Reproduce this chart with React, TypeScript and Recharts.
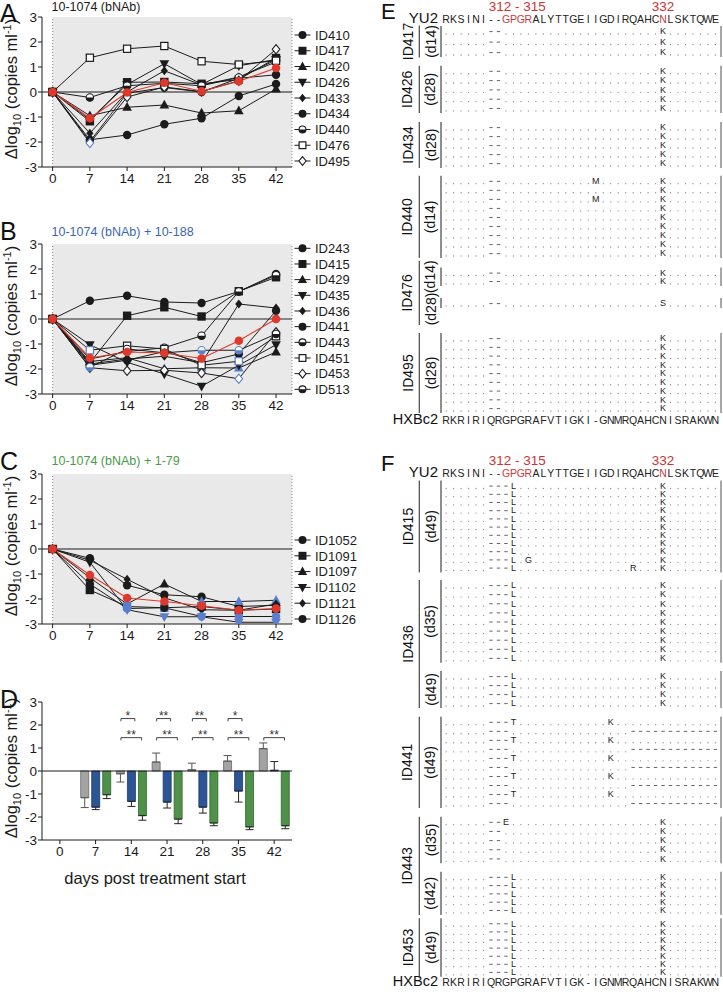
import React from 'react'
import { LineChart, Line, XAxis, YAxis, ReferenceLine, ReferenceArea, BarChart, Bar, ErrorBar } from 'recharts'

const FONT = '"Liberation Sans", Arial, Helvetica, sans-serif'
const INK = '#1b1b1b'
const PT_BLUE = '#5b7fcc'
const MEAN_RED = '#e0392b'

const days = [0, 7, 14, 21, 28, 35, 42]
const yTicks = [-3, -2, -1, 0, 1, 2, 3]

// A: 10-1074 alone
const a410 = [0, -1.98, -0.05, 0.18, 0.0, 0.55, 0.69]
const a417 = [0, -1.17, 0.39, 0.4, 0.33, 0.5, 1.36]
const a420 = [0, -0.95, -0.61, -0.52, -0.84, -0.75, 0.12]
const a426 = [0, -1.1, 0.3, 1.13, 0.3, 1.05, 1.3]
const a433 = [0, -1.65, 0.0, 0.85, 0.28, 0.6, 1.2]
const a434 = [0, -1.91, -1.72, -1.29, -1.05, -0.16, 0.32]
const a440 = [0, -0.22, 0.25, 0.35, 0.25, 0.58, 1.28]
const a476 = [0, 1.37, 1.73, 1.84, 1.23, 1.1, 1.25]
const a495 = [0, -2.04, -0.2, 0.2, 0.02, 0.45, 1.71]
const aMean = [0, -1.05, -0.02, 0.37, 0.03, 0.43, 0.96]

// B: 10-1074 + 10-188
const b243 = [0, 0.73, 0.93, 0.68, 0.64, 1.1, 1.8]
const b415 = [0, -1.75, 0.13, 0.47, 0.1, 1.11, 1.67]
const b429 = [0, -1.7, -1.55, -1.99, -1.95, -1.96, -1.32]
const b435 = [0, -1.03, -1.73, -2.2, -2.69, -1.85, -1.03]
const b436 = [0, -1.8, -1.6, -1.49, -1.75, 0.6, 0.44]
const b441 = [0, -1.85, -1.65, -1.3, -1.75, -1.4, 0.33]
const b443 = [0, -1.6, -1.3, -1.15, -0.67, 1.1, 1.75]
const b451 = [0, -1.25, -1.07, -1.2, -1.85, -1.69, -0.69]
const b453 = [0, -1.95, -2.07, -2.05, -2.16, -2.39, -0.53]
const b513 = [0, -1.93, -1.2, -1.35, -1.25, -1.25, -0.6]
const bMean = [0, -1.56, -1.32, -1.36, -1.58, -0.87, 0.0]

// C: 10-1074 + 1-79
const c1052 = [0, -0.37, -1.45, -1.83, -1.91, -2.3, -2.25]
const c1091 = [0, -1.64, -2.3, -2.35, -2.3, -2.45, -2.4]
const c1097 = [0, -1.15, -2.2, -1.4, -2.1, -2.1, -2.05]
const c1102 = [0, -0.53, -2.43, -2.71, -2.71, -2.93, -2.93]
const c1121 = [0, -0.45, -1.21, -1.95, -2.43, -2.45, -2.2]
const c1126 = [0, -1.4, -2.38, -2.35, -2.7, -2.7, -2.7]
const cMean = [0, -1.04, -1.96, -2.1, -2.27, -2.45, -2.38]

const seriesA = [
  { id: 'ID410', shape: 'circle', values: a410, blueDays: [7] },
  { id: 'ID417', shape: 'square', values: a417, blueDays: [] },
  { id: 'ID420', shape: 'triUp', values: a420, blueDays: [] },
  { id: 'ID426', shape: 'triDown', values: a426, blueDays: [] },
  { id: 'ID433', shape: 'diamond', values: a433, blueDays: [] },
  { id: 'ID434', shape: 'circle', values: a434, blueDays: [] },
  { id: 'ID440', shape: 'halfCircle', values: a440, blueDays: [] },
  { id: 'ID476', shape: 'openSquare', values: a476, blueDays: [] },
  { id: 'ID495', shape: 'openDiamond', values: a495, blueDays: [7] },
]
const seriesB = [
  { id: 'ID243', shape: 'circle', values: b243, blueDays: [] },
  { id: 'ID415', shape: 'square', values: b415, blueDays: [] },
  { id: 'ID429', shape: 'triUp', values: b429, blueDays: [21, 28, 35] },
  { id: 'ID435', shape: 'triDown', values: b435, blueDays: [] },
  { id: 'ID436', shape: 'diamond', values: b436, blueDays: [] },
  { id: 'ID441', shape: 'circle', values: b441, blueDays: [] },
  { id: 'ID443', shape: 'halfCircle', values: b443, blueDays: [] },
  { id: 'ID451', shape: 'openSquare', values: b451, blueDays: [7, 35] },
  { id: 'ID453', shape: 'openDiamond', values: b453, blueDays: [35] },
  { id: 'ID513', shape: 'halfCircle', values: b513, blueDays: [7, 28, 35] },
]
const seriesC = [
  { id: 'ID1052', shape: 'circle', values: c1052, blueDays: [] },
  { id: 'ID1091', shape: 'square', values: c1091, blueDays: [14, 21] },
  { id: 'ID1097', shape: 'triUp', values: c1097, blueDays: [14, 28, 35, 42] },
  { id: 'ID1102', shape: 'triDown', values: c1102, blueDays: [14, 21, 28, 35, 42] },
  { id: 'ID1121', shape: 'diamond', values: c1121, blueDays: [] },
  { id: 'ID1126', shape: 'circle', values: c1126, blueDays: [14, 28, 35, 42] },
]

// D: group means with one-sided SEM
const dDays = ['0', '7', '14', '21', '28', '35', '42']
const dMono = [null, -1.16, -0.12, 0.39, 0.05, 0.43, 0.97]
const dMonoErr = [0, 0.43, 0.36, 0.39, 0.29, 0.24, 0.25]
const d188 = [null, -1.57, -1.32, -1.35, -1.57, -0.87, 0.03]
const d188Err = [0, 0.11, 0.22, 0.26, 0.26, 0.48, 0.38]
const d179 = [null, -1.03, -1.94, -2.09, -2.26, -2.43, -2.38]
const d179Err = [0, 0.17, 0.2, 0.2, 0.12, 0.12, 0.13]
const sigMonoVs188 = ['', '', '*', '**', '**', '*', '']
const sigMonoVs179 = ['', '', '**', '**', '**', '**', '**']

// E / F: Env sequences
const yu2 = 'RKSINI--GPGRALYTTGEIIGDIRQAHCNLSKTQWE'
const hxbE = 'RKRIRIQRGPGRAFVTIGKI-GNMRQAHCNISRAKWN'
const hxbF = 'RKRIRIQRGPGRAFVTIGK-IGNMRQAHCNISRAKWN'
const redCols = [8, 9, 10, 11, 29]

const e417d14 = ['29K', '29K', '29K']
const e426d28 = ['29K', '29K', '29K', '29K', '29K']
const e434d28 = ['29K', '29K', '29K', '29K', '29K']
const e440d14 = ['20M 29K', '29K', '20M 29K', '29K', '29K', '29K', '29K', '29K', '29K']
const e476d14 = ['29K', '29K']
const e476d28 = ['29S']
const e495d28 = ['29K', '29K', '29K', '29K', '29K', '29K', '29K', '29K', '29K']

const f415d49 = ['9L 29K', '9L 29K', '9L 29K', '9L 29K', '9L 29K', '9L 29K', '9L 29K', '9L 29K', '9L 29K', '9L 11G 29K', '9L 25R 29K']
const f436d35 = ['9L 29K', '9L 29K', '9L 29K', '9L 29K', '9L 29K', '9L 29K', '9L 29K', '9L 29K', '9L 29K']
const f436d49 = ['9L 29K', '9L 29K', '9L 29K', '9L 29K']
const f441d49 = ['9T 22K', '~25', '9T 22K', '~25', '9T 22K', '~25', '9T 22K', '~25', '9T 22K', '~25']
const f443d35 = ['8E 29K', '8. 29K', '8. 29K', '8. 29K', '8. 29K']
const f443d42 = ['9L 29K', '9L 29K', '9L 29K', '9L 29K', '9L 29K']
const f453d49 = ['9L 29K', '9L 29K', '9L 29K', '9L 29K', '9L 29K', '9L 29K', '9L 29K']

const baseE = '......--' + '.'.repeat(29)
const baseF = '......---' + '.'.repeat(28)

const eBlocks = [
  { pid: 'ID417', day: '(d14)', rows: e417d14, y0: 31, dy: 10.5 },
  { pid: 'ID426', day: '(d28)', rows: e426d28, y0: 70.7, dy: 9.3 },
  { pid: 'ID434', day: '(d28)', rows: e434d28, y0: 127, dy: 9 },
  { pid: 'ID440', day: '(d14)', rows: e440d14, y0: 180.7, dy: 9.04 },
  { pid: 'ID476', day: '(d14)', rows: e476d14, y0: 272.5, dy: 8.4 },
  { pid: 'ID476', day: '(d28)', rows: e476d28, y0: 303, dy: 8, labelY: 309 },
  { pid: 'ID495', day: '(d28)', rows: e495d28, y0: 338, dy: 8.75 },
]
const fBlocks = [
  { pid: 'ID415', day: '(d49)', rows: f415d49, y0: 485.5, dy: 8.2 },
  { pid: 'ID436', day: '(d35)', rows: f436d35, y0: 585, dy: 9.1 },
  { pid: 'ID436', day: '(d49)', rows: f436d49, y0: 676, dy: 9 },
  { pid: 'ID441', day: '(d49)', rows: f441d49, y0: 721.7, dy: 9.03 },
  { pid: 'ID443', day: '(d35)', rows: f443d35, y0: 821.7, dy: 9.15 },
  { pid: 'ID443', day: '(d42)', rows: f443d42, y0: 876.7, dy: 8.3 },
  { pid: 'ID453', day: '(d49)', rows: f453d49, y0: 923.2, dy: 8.1 },
]

const COL0 = 442.4
const COLW = 7.48
const colX = (i: number) => COL0 + (i + 0.5) * COLW

function Marker({ cx, cy, shape, color, k = 1 }: any) {
  const r = 4.2 * k
  if (cx == null || cy == null) return null
  switch (shape) {
    case 'circle':
      return <circle cx={cx} cy={cy} r={r} fill={color} />
    case 'square':
      return <rect x={cx - r} y={cy - r} width={2 * r} height={2 * r} fill={color} />
    case 'triUp':
      return <polygon points={`${cx},${cy - r * 1.25} ${cx + r * 1.15},${cy + r * 0.85} ${cx - r * 1.15},${cy + r * 0.85}`} fill={color} />
    case 'triDown':
      return <polygon points={`${cx},${cy + r * 1.25} ${cx + r * 1.15},${cy - r * 0.85} ${cx - r * 1.15},${cy - r * 0.85}`} fill={color} />
    case 'diamond':
      return <polygon points={`${cx},${cy - r * 1.05} ${cx + r * 0.85},${cy} ${cx},${cy + r * 1.05} ${cx - r * 0.85},${cy}`} fill={color} />
    case 'openSquare':
      return <rect x={cx - r + 0.6} y={cy - r + 0.6} width={2 * r - 1.2} height={2 * r - 1.2} fill="#fff" stroke={color} strokeWidth={1.2} />
    case 'openDiamond':
      return <polygon points={`${cx},${cy - r * 1.1} ${cx + r * 0.9},${cy} ${cx},${cy + r * 1.1} ${cx - r * 0.9},${cy}`} fill="#fff" stroke={color} strokeWidth={1.1} />
    case 'halfCircle':
      return (
        <g>
          <circle cx={cx} cy={cy} r={r - 0.5} fill="#fff" stroke={color} strokeWidth={1.1} />
          <path d={`M${cx - r + 0.5},${cy} A${r - 0.5},${r - 0.5} 0 0 0 ${cx + r - 0.5},${cy} Z`} fill={color} />
        </g>
      )
    default:
      return <circle cx={cx} cy={cy} r={r} fill={color} />
  }
}

function YLabel(props: any) {
  const vb = props.viewBox || { y: 0, height: 0 }
  const cy = vb.y + vb.height / 2 - 3
  const x = 17
  return (
    <text x={x} y={cy} transform={`rotate(-90 ${x} ${cy})`} textAnchor="middle" fontSize={16.5} fill={INK} fontFamily={FONT}>
      Δlog<tspan fontSize={11} dy={4}>10</tspan>
      <tspan dy={-4}> (copies ml</tspan>
      <tspan fontSize={11} dy={-6}>-1</tspan>
      <tspan dy={6}>)</tspan>
    </text>
  )
}

const tickStyle = { fontSize: 13.5, fill: INK }

function LinePanel({ top, series, mean, zeroColor }: any) {
  const rows = days.map((d, i) => {
    const r: any = { day: d, mean: mean[i] }
    series.forEach((s: any) => { r[s.id] = s.values[i] })
    return r
  })
  return (
    <div style={{ position: 'absolute', left: 0, top }}>
      <LineChart width={360} height={200} data={rows} margin={{ top: 17, right: 68, bottom: 8, left: 12 }}>
        <ReferenceArea x1={0} x2={45} y1={-3} y2={3} fill="#e9e9e9" fillOpacity={1} stroke="none" />
        <ReferenceLine x={0} stroke="#888" strokeDasharray="1 2" />
        <ReferenceLine x={45} stroke="#888" strokeDasharray="1 2" />
        <ReferenceLine y={0} stroke={zeroColor} strokeWidth={zeroColor === INK ? 1 : 1.6} />
        <XAxis dataKey="day" type="number" domain={[-2, 45]} ticks={days} interval={0} allowDataOverflow
          tick={tickStyle} tickSize={4} tickLine={{ stroke: INK }} axisLine={{ stroke: INK }} height={25} />
        <YAxis domain={[-3, 3]} ticks={yTicks} interval={0} width={30} allowDataOverflow
          tick={tickStyle} tickSize={4} tickMargin={1} tickLine={{ stroke: INK }} axisLine={{ stroke: INK }}
          label={<YLabel />} />
        {series.map((s: any) => (
          <Line key={s.id} dataKey={s.id} stroke={INK} strokeWidth={1} isAnimationActive={false} activeDot={false}
            dot={(p: any) => (
              <Marker key={`${s.id}-${p.index}`} cx={p.cx} cy={p.cy} shape={s.shape}
                color={s.blueDays.includes(p.payload.day) ? PT_BLUE : INK} />
            )} />
        ))}
        <Line dataKey="mean" stroke={MEAN_RED} strokeWidth={1.1} isAnimationActive={false} activeDot={false}
          dot={(p: any) => <circle key={`mean-${p.index}`} cx={p.cx} cy={p.cy} r={4.3} fill={MEAN_RED} />} />
      </LineChart>
    </div>
  )
}

const oneSided = (v: number | null, e: number) => (v == null ? undefined : v < 0 ? [e, 0] : [0, e])

function BarPanel() {
  const rows = dDays.map((d, i) => ({
    day: d,
    pos: i,
    mono: dMono[i],
    monoErr: oneSided(dMono[i], dMonoErr[i]),
    c188: d188[i],
    c188Err: oneSided(d188[i], d188Err[i]),
    c179: d179[i],
    c179Err: oneSided(d179[i], d179Err[i]),
  }))
  const off = 0.29
  const brackets: any[] = []
  dDays.forEach((_, i) => {
    if (sigMonoVs188[i]) brackets.push({ i, x1: i - off, x2: i + 0.1, y: 2.28, s: sigMonoVs188[i] })
    if (sigMonoVs179[i]) brackets.push({ i, x1: i - off, x2: i + off, y: 1.45, s: sigMonoVs179[i] })
  })
  return (
    <div style={{ position: 'absolute', left: 0, top: 680 }}>
      <BarChart width={360} height={215} data={rows} margin={{ top: 22, right: 68, bottom: 10, left: 12 }} barSize={8} barGap={3}>
        <XAxis dataKey="day" tick={tickStyle} tickSize={4} tickLine={{ stroke: INK }} axisLine={{ stroke: INK }} height={45}
          label={{ value: 'days post treatment start', position: 'insideBottom', offset: 1, dx: -12, fontSize: 16.5, fill: INK }} />
        <XAxis xAxisId="pos" dataKey="pos" type="number" domain={[-0.5, 6.5]} hide />
        <YAxis domain={[-3, 3]} ticks={yTicks} interval={0} width={30} allowDataOverflow
          tick={tickStyle} tickSize={4} tickMargin={1} tickLine={{ stroke: INK }} axisLine={{ stroke: INK }}
          label={<YLabel />} />
        <Bar dataKey="mono" fill="#a3a3a3" stroke="#666" strokeWidth={0.8} isAnimationActive={false}>
          <ErrorBar dataKey="monoErr" width={4} stroke="#555" strokeWidth={1} direction="y" />
        </Bar>
        <Bar dataKey="c188" fill="#2c5596" stroke="#1d3766" strokeWidth={0.8} isAnimationActive={false}>
          <ErrorBar dataKey="c188Err" width={4} stroke="#222" strokeWidth={1} direction="y" />
        </Bar>
        <Bar dataKey="c179" fill="#4f9149" stroke="#33652f" strokeWidth={0.8} isAnimationActive={false}>
          <ErrorBar dataKey="c179Err" width={4} stroke="#222" strokeWidth={1} direction="y" />
        </Bar>
        <ReferenceLine y={0} stroke={INK} strokeWidth={1} />
        {brackets.map((b, k) => (
          <ReferenceLine key={`h${k}`} xAxisId="pos" stroke="#444" strokeWidth={1}
            segment={[{ x: b.x1, y: b.y }, { x: b.x2, y: b.y }]}
            label={{ value: b.s, position: 'top', offset: -1, fontSize: 12, fill: '#333' }} />
        ))}
        {brackets.map((b, k) => (
          <ReferenceLine key={`l${k}`} xAxisId="pos" stroke="#444" strokeWidth={1}
            segment={[{ x: b.x1, y: b.y }, { x: b.x1, y: b.y - 0.12 }]} />
        ))}
        {brackets.map((b, k) => (
          <ReferenceLine key={`r${k}`} xAxisId="pos" stroke="#444" strokeWidth={1}
            segment={[{ x: b.x2, y: b.y }, { x: b.x2, y: b.y - 0.12 }]} />
        ))}
      </BarChart>
    </div>
  )
}

function LegendBlock({ x, y, step, series }: any) {
  return (
    <g>
      {series.map((s: any, i: number) => {
        const yy = y + i * step
        return (
          <g key={s.id}>
            <line x1={x - 8} x2={x + 8} y1={yy} y2={yy} stroke={INK} strokeWidth={1} />
            <Marker cx={x} cy={yy} shape={s.shape} color={INK} k={0.95} />
            <text x={x + 12.5} y={yy + 4.7} fontSize={13} fill={INK}>{s.id}</text>
          </g>
        )
      })}
    </g>
  )
}

function expandRow(base: string, muts: string) {
  const chars = base.split('')
  muts.split(' ').filter(Boolean).forEach((t) => {
    if (t.startsWith('~')) {
      for (let c = Number(t.slice(1)); c < chars.length; c++) chars[c] = '-'
    } else {
      chars[Number(t.slice(0, -1))] = t.slice(-1)
    }
  })
  return chars
}

// one text element per sequence, each residue placed on its column
function SeqLine({ seq, y, red }: any) {
  return (
    <text y={y} fontSize={10.5} textAnchor="middle" fill="#222">
      {seq.split('').map((ch: string, i: number) => (
        <tspan key={i} x={colX(i)} fill={red && redCols.includes(i) ? '#d0393b' : '#222'}>{ch}</tspan>
      ))}
    </text>
  )
}

function Alignment({ blocks, base, letter, letterY, redY, yuY, refSeq, refY }: any) {
  const geo = blocks.map((b: any) => {
    const top = b.y0 - 5
    const bottom = b.y0 + (b.rows.length - 1) * b.dy + 5
    const labelY = b.labelY ?? (top + bottom) / 2
    return { ...b, top, bottom, labelY }
  })
  const groups: any[] = []
  geo.forEach((b: any) => {
    const last = groups[groups.length - 1]
    if (last && last.pid === b.pid) last.items.push(b)
    else groups.push({ pid: b.pid, items: [b] })
  })
  return (
    <g>
      <text x={381} y={letterY} fontSize={22} fill="#111">{letter}</text>
      <text x={COL0 + 10 * COLW} y={redY} fontSize={13.5} textAnchor="middle" fill="#cc3333">312 - 315</text>
      <text x={colX(29)} y={redY} fontSize={13.5} textAnchor="middle" fill="#cc3333">332</text>
      <text x={438} y={yuY} fontSize={15} textAnchor="end" fill="#111">YU2</text>
      <SeqLine seq={yu2} y={yuY} red />
      {groups.map((g) => {
        const gTop = Math.min(...g.items.map((b: any) => Math.min(b.top, b.labelY - 16)))
        const gBottom = Math.max(...g.items.map((b: any) => Math.max(b.bottom, b.labelY + 16)))
        const cy = (gTop + gBottom) / 2
        return (
          <g key={g.pid + gTop}>
            <line x1={419.3} x2={419.3} y1={gTop} y2={gBottom} stroke="#444" strokeWidth={1.2} />
            <text x={412.5} y={cy} transform={`rotate(-90 412.5 ${cy})`} fontSize={14} textAnchor="middle" fill="#111">{g.pid}</text>
          </g>
        )
      })}
      {geo.map((b: any, bi: number) => {
        const marks: any[] = []
        const letters: Record<number, { y: number; ch: string }[]> = {}
        b.rows.forEach((r: string, ri: number) => {
          const y = b.y0 + ri * b.dy
          expandRow(base, r).forEach((ch: string, ci: number) => {
            const x = colX(ci)
            if (ch === '.') marks.push(<circle key={`${ri}-${ci}`} cx={x} cy={y + 3} r={0.65} fill="#8c8c8c" />)
            else if (ch === '-') marks.push(<line key={`${ri}-${ci}`} x1={x - 1.7} x2={x + 1.7} y1={y + 0.6} y2={y + 0.6} stroke="#555" strokeWidth={0.9} />)
            else (letters[ci] = letters[ci] || []).push({ y, ch })
          })
        })
        return (
          <g key={bi}>
            <line x1={441} x2={441} y1={b.top} y2={b.bottom} stroke="#444" strokeWidth={1.2} />
            <line x1={721} x2={721} y1={b.top} y2={b.bottom} stroke="#a8a8a8" strokeWidth={2} />
            <text x={435.5} y={b.labelY} transform={`rotate(-90 435.5 ${b.labelY})`} fontSize={14} textAnchor="middle" fill="#111">{b.day}</text>
            {marks}
            {Object.keys(letters).map((c) => (
              <text key={`c${c}`} fontSize={9} textAnchor="middle" fill="#222">
                {letters[Number(c)].map((it, k) => (
                  <tspan key={k} x={colX(Number(c))} y={it.y + 3.3}>{it.ch}</tspan>
                ))}
              </text>
            ))}
          </g>
        )
      })}
      <text x={438} y={refY} fontSize={14.5} textAnchor="end" fill="#111">HXBc2</text>
      <SeqLine seq={refSeq} y={refY - 0.5} />
    </g>
  )
}

export default function App() {
  return (
    <div style={{ position: 'absolute', left: 0, top: 0, width: 723, height: 994, background: '#fff', fontFamily: FONT, overflow: 'hidden' }}>
      <LinePanel top={0} series={seriesA} mean={aMean} zeroColor={INK} />
      <LinePanel top={226.6} series={seriesB} mean={bMean} zeroColor="#666" />
      <LinePanel top={456.6} series={seriesC} mean={cMean} zeroColor={INK} />
      <BarPanel />
      <svg width={723} height={994} style={{ position: 'absolute', left: 0, top: 0, pointerEvents: 'none' }} fontFamily={FONT}>
        <text x={0} y={22} fontSize={25} fill="#111">A</text>
        <text x={0} y={240} fontSize={25} fill="#111">B</text>
        <text x={0} y={470} fontSize={25} fill="#111">C</text>
        <text x={0} y={708} fontSize={25} fill="#111">D</text>
        <text x={51.5} y={10.5} fontSize={12.5} fill={INK}>10-1074 (bNAb)</text>
        <text x={51.5} y={235.5} fontSize={12.5} fill="#3d66ad">10-1074 (bNAb) + 10-188</text>
        <text x={51.5} y={465} fontSize={12.5} fill="#4a9a4a">10-1074 (bNAb) + 1-79</text>
        <LegendBlock x={302.5} y={35} step={15.75} series={seriesA} />
        <LegendBlock x={302.5} y={248.3} step={15.67} series={seriesB} />
        <LegendBlock x={302.5} y={540} step={15.8} series={seriesC} />
        <Alignment blocks={eBlocks} base={baseE} letter="E" letterY={19} redY={10.5} yuY={22.5} refSeq={hxbE} refY={424} />
        <Alignment blocks={fBlocks} base={baseF} letter="F" letterY={471} redY={464.5} yuY={477} refSeq={hxbF} refY={986} />
      </svg>
    </div>
  )
}
